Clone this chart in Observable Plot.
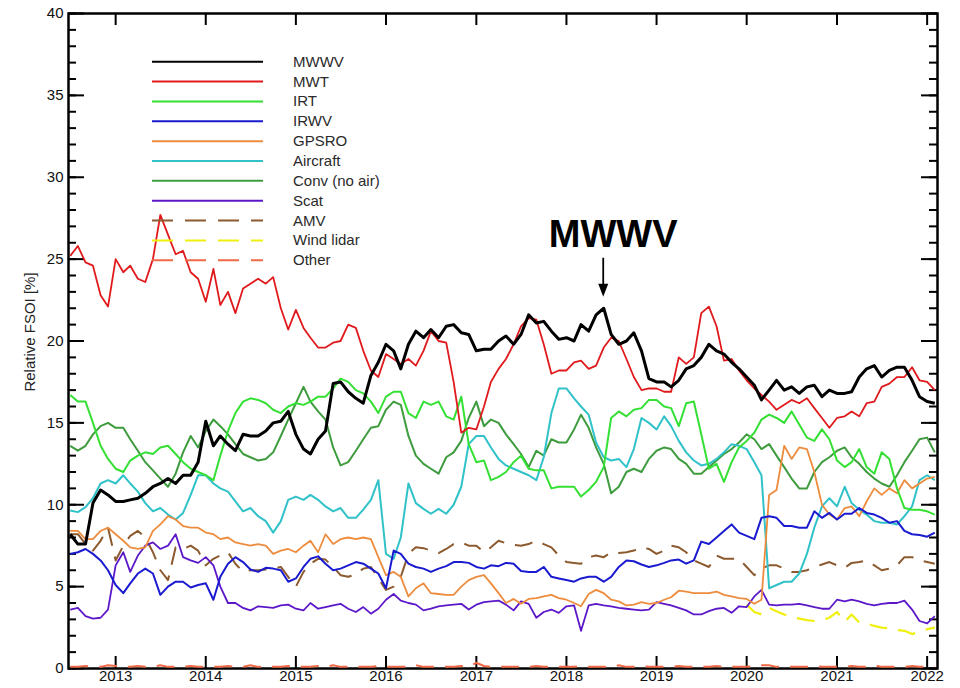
<!DOCTYPE html>
<html><head><meta charset="utf-8">
<script src="https://cdn.jsdelivr.net/npm/d3@7"></script>
<script src="https://cdn.jsdelivr.net/npm/@observablehq/plot@0.6"></script>
<style>
body{margin:0;background:#fff;}
#wrap{position:relative;width:960px;height:688px;overflow:hidden;}
#wrap svg{position:absolute;left:0;top:0;}
</style></head><body><div id="wrap"></div>
<script>
// ---- data (monthly, first value = July 2012) ----
const seriesStart = "2012-07-01";
const windLidarStart = "2020-01-01";

const mwwv = [8.2,7.6,7.6,10.1,10.9,10.6,10.2,10.2,10.3,10.4,
10.7,11.1,11.3,11.6,11.3,11.8,11.8,12.6,15.1,13.6,
14.2,13.7,13.3,14.3,14.2,14.2,14.5,15.0,15.1,15.7,
14.3,13.4,13.1,14.0,14.5,17.4,17.5,16.9,16.5,16.2,
17.9,18.7,19.8,19.4,18.3,19.8,20.6,20.2,20.7,20.2,
20.9,21.0,20.5,20.4,19.4,19.5,19.5,20.0,20.3,19.8,
20.4,21.6,21.1,21.2,20.6,20.1,20.2,20.0,21.0,20.6,
21.6,22.0,20.4,19.8,20.0,20.5,19.4,17.7,17.5,17.5,
17.2,17.6,18.3,18.5,19.0,19.8,19.4,19.2,18.7,18.3,
17.8,17.3,16.4,17.0,17.6,17.0,17.2,16.8,17.2,17.3,
16.6,17.0,16.8,16.8,16.9,17.8,18.3,18.5,17.8,18.2,
18.4,18.4,17.6,16.6,16.3,16.2];

const mwt = [25.2,25.8,24.8,24.6,22.8,22.1,25.0,24.2,24.6,23.8,
23.6,25.0,27.7,26.5,25.3,25.5,24.2,23.8,22.4,24.4,
22.2,23.0,21.7,23.2,23.5,23.8,23.5,23.9,22.0,20.7,
21.9,20.8,20.2,19.6,19.6,19.9,20.0,21.0,20.8,19.4,
18.2,17.8,19.2,18.9,18.6,18.9,18.5,19.4,20.6,20.0,
19.9,17.5,14.4,14.7,14.6,16.0,17.5,18.3,18.9,19.8,
20.9,21.4,21.3,19.8,18.0,18.2,18.2,18.7,18.8,18.3,
18.5,19.6,20.2,20.0,18.9,17.8,17.0,17.1,17.1,16.9,
16.9,19.0,18.6,19.0,21.7,22.1,20.9,18.8,18.9,18.2,
17.6,17.1,16.7,16.3,15.8,16.1,16.4,16.2,16.5,15.9,
15.3,14.7,15.3,15.4,15.7,15.4,16.2,16.3,17.2,17.4,
17.8,17.8,18.4,17.6,17.5,17.0];

const irt = [16.7,16.3,16.3,15.0,13.6,12.8,12.2,12.0,12.7,13.0,
13.2,13.1,13.5,13.6,13.1,12.6,12.2,12.0,11.8,11.5,
13.0,14.5,15.6,16.3,16.5,16.4,16.2,15.8,15.6,16.0,
16.2,16.1,16.3,16.6,16.6,17.1,17.7,17.5,17.0,16.8,
16.3,15.6,16.6,16.9,16.9,15.6,15.3,16.3,16.1,16.3,
15.4,15.2,16.6,13.7,12.6,12.7,11.5,11.7,12.0,12.6,
13.0,12.2,12.1,12.1,11.0,11.1,11.1,11.1,10.5,10.9,
11.4,12.3,15.3,15.7,15.4,15.8,15.9,16.4,16.4,16.0,
15.9,14.8,16.2,16.3,14.3,12.2,12.5,11.4,12.6,13.5,
13.9,14.4,15.2,15.5,15.3,15.0,15.7,14.9,14.1,13.9,
14.6,14.0,12.7,12.3,12.6,13.4,12.3,11.9,13.2,12.8,
11.0,9.8,9.7,9.7,9.6,9.4];

const irwv = [7.0,7.1,7.3,7.0,6.6,6.0,5.1,4.6,5.2,5.8,
6.1,5.8,4.5,5.0,5.3,5.3,4.95,5.1,5.2,4.2,
5.6,6.4,6.8,6.5,6.05,5.9,6.15,6.1,6.0,5.3,
5.5,6.2,6.7,6.85,6.4,6.0,6.1,6.3,6.5,6.4,
6.1,5.8,4.9,7.2,7.0,6.4,6.2,6.1,5.9,6.1,
6.25,6.5,6.5,6.45,6.2,6.1,6.3,6.25,6.45,6.4,
5.95,5.9,5.9,6.2,5.6,5.5,5.4,5.3,5.5,5.6,
5.6,5.3,5.6,6.2,6.6,6.55,6.35,6.2,6.3,6.45,
6.6,6.65,6.4,6.6,7.75,7.6,8.0,8.4,8.8,8.3,
8.1,7.9,9.2,9.3,9.2,8.7,8.7,8.6,8.6,9.6,
9.2,9.5,9.1,9.45,9.45,9.8,9.5,9.4,9.2,8.9,
9.0,8.4,8.2,8.15,8.05,8.3];

const gpsro = [8.4,8.4,7.9,7.9,8.4,8.6,8.2,7.8,7.4,7.3,
7.4,8.4,8.8,9.3,9.1,8.7,8.6,8.6,8.3,8.2,
7.9,8.0,7.7,7.6,7.5,7.6,7.5,7.0,7.2,7.3,
7.1,7.5,7.8,7.1,8.2,7.6,7.9,8.0,7.9,8.0,
7.9,6.8,5.7,5.9,5.6,4.4,4.9,5.2,4.6,4.55,
4.5,4.5,5.0,5.4,5.6,5.7,5.2,4.6,4.0,4.25,
3.95,4.25,4.3,4.4,4.5,4.3,4.2,4.0,3.8,4.55,
4.8,4.6,4.2,4.1,3.85,3.9,4.05,3.95,4.0,4.2,
4.35,4.75,4.7,4.6,4.6,4.6,4.7,4.5,4.4,4.3,
4.25,3.95,4.2,10.6,10.9,13.6,12.8,13.5,13.4,12.0,
10.0,9.4,9.1,9.8,9.9,9.3,10.2,11.0,10.6,11.0,
10.7,11.5,11.0,11.3,11.6,11.7];

const aircraft = [9.65,9.55,9.85,10.4,11.3,11.5,11.3,11.8,11.3,10.8,
10.1,9.6,9.8,9.4,9.1,9.5,10.6,11.8,11.8,11.3,
11.0,10.8,10.2,9.6,9.8,9.3,9.0,8.3,9.0,10.3,
10.5,10.3,10.6,10.3,9.9,9.6,9.8,9.2,9.2,9.7,
10.3,11.5,7.0,6.7,8.0,11.3,10.1,9.75,9.45,9.75,
9.45,10.0,11.1,13.7,14.2,14.2,13.5,12.8,12.4,12.2,
12.0,11.8,11.5,12.9,15.6,17.1,17.1,16.5,16.0,15.5,
13.8,12.9,12.7,12.8,12.3,13.4,15.3,15.0,14.6,15.4,
14.8,13.9,13.2,12.7,12.4,12.5,12.8,13.2,13.7,13.6,
13.4,12.6,11.8,4.9,5.1,5.3,5.3,5.8,7.0,8.6,
9.9,10.4,9.9,11.1,10.1,9.7,9.4,9.0,8.9,8.9,
8.8,9.3,9.9,11.5,11.8,11.5];

const conv = [13.6,13.3,13.6,14.3,14.8,15.0,14.7,14.7,14.0,13.3,
12.6,12.1,11.6,11.1,11.9,13.2,14.2,13.5,14.5,15.2,
14.8,14.3,13.7,13.1,12.9,12.7,12.8,13.2,14.2,15.2,
16.2,17.2,16.3,15.7,15.2,13.5,12.4,12.6,13.3,14.0,
14.7,14.8,15.8,16.3,16.1,14.2,13.0,12.5,12.2,11.9,
12.9,13.2,13.9,15.3,16.3,14.8,15.2,15.0,14.3,13.7,
13.1,12.3,13.3,13.0,14.0,13.8,13.8,14.6,15.5,14.7,
13.5,12.5,10.7,11.1,12.0,12.2,12.0,12.8,13.3,13.5,
13.4,12.8,12.5,11.9,11.9,12.3,12.7,13.1,13.4,13.8,
14.3,14.0,13.4,13.7,13.0,12.3,11.6,11.0,11.0,12.0,
12.6,12.9,13.3,13.5,12.9,12.5,12.0,11.6,11.3,11.1,
11.8,12.6,13.3,14.0,14.1,13.2];

const scat = [3.6,3.7,3.2,3.05,3.1,3.6,6.3,7.1,5.9,6.9,
7.5,7.7,7.3,7.5,8.2,6.8,6.6,6.45,6.8,6.3,
5.0,4.0,4.0,3.7,3.55,3.8,3.75,3.7,3.85,3.9,
3.65,3.55,4.0,3.65,3.75,3.85,3.95,3.65,3.45,3.75,
3.35,3.65,4.2,4.55,4.15,4.0,3.9,3.55,3.65,3.8,
3.85,3.9,3.95,3.6,3.9,4.05,4.1,4.15,3.9,3.55,
4.1,3.95,3.1,3.45,3.6,3.4,3.8,3.85,2.3,3.85,
3.95,3.85,3.8,3.7,3.65,3.6,3.55,3.6,4.05,3.95,
3.85,3.7,3.55,3.3,3.3,3.5,3.65,3.7,3.4,3.8,
3.75,4.4,4.8,3.9,3.85,3.9,3.9,3.95,3.85,3.75,
3.65,3.65,4.2,4.1,4.2,4.1,3.95,3.85,3.95,4.0,
4.0,4.15,3.6,2.9,2.75,3.2];

const amv = [8.2,8.2,7.6,7.2,7.8,8.6,6.6,7.5,8.1,8.4,
8.0,7.1,6.0,5.4,7.4,7.3,7.5,7.2,6.3,6.7,
6.9,7.1,6.4,5.9,6.0,6.0,6.05,6.1,6.2,5.6,
5.0,5.9,6.4,6.7,6.65,6.2,5.7,5.6,5.75,6.1,
6.2,5.5,4.8,5.0,5.6,7.0,7.4,7.35,7.2,7.05,
7.3,7.6,7.7,7.5,7.5,7.1,7.4,7.8,7.65,7.55,
7.5,7.6,7.8,7.6,7.4,6.9,6.5,6.45,6.4,6.8,
6.9,6.8,7.1,7.05,7.1,7.2,7.4,7.3,7.0,7.2,
7.5,7.4,7.1,6.6,6.4,6.2,6.9,6.7,6.7,6.7,
6.2,5.7,6.1,6.3,6.3,6.1,5.9,5.9,6.0,6.2,
6.35,6.5,6.3,6.15,6.45,6.5,6.6,6.3,6.0,6.1,
6.3,6.8,6.8,6.6,6.5,6.4];

const windLidar = [3.9,3.45,3.3,3.7,3.5,3.3,3.15,3.05,2.95,2.9,
2.95,3.1,3.45,2.85,3.3,2.8,2.75,2.6,2.5,2.45,
2.35,2.3,2.1,2.25,2.4,2.5];

const other = [0.1,0.1,0.15,0.1,0.1,0.2,0.15,0.1,0.1,0.15,
0.1,0.1,0.2,0.1,0.1,0.1,0.15,0.1,0.1,0.1,
0.1,0.15,0.1,0.1,0.2,0.1,0.1,0.1,0.1,0.15,
0.1,0.1,0.1,0.15,0.1,0.2,0.1,0.1,0.1,0.1,
0.1,0.15,0.1,0.1,0.1,0.1,0.2,0.1,0.1,0.1,
0.1,0.1,0.15,0.1,0.35,0.15,0.1,0.1,0.1,0.1,
0.1,0.1,0.15,0.1,0.1,0.1,0.1,0.1,0.15,0.1,
0.1,0.1,0.1,0.2,0.1,0.1,0.15,0.1,0.1,0.1,
0.1,0.15,0.1,0.1,0.1,0.1,0.15,0.1,0.1,0.1,
0.1,0.15,0.2,0.2,0.1,0.1,0.1,0.1,0.1,0.15,
0.1,0.1,0.1,0.1,0.15,0.1,0.1,0.2,0.1,0.1,
0.1,0.1,0.15,0.1,0.1,0.1];

const yearTicks = [2013,2014,2015,2016,2017,2018,2019,2020,2021,2022];
const yMajorTicks = [0,5,10,15,20,25,30,35,40];
const yMinorTicks = d3.range(0, 41, 1);
const annotationLabel = "MWWV";
const annotationMonth = "2018-06-01";
const yLabel = "Relative FSOI [%]";

// ---- style config ----
const series = [
  {name: "MWWV", values: mwwv, start: seriesStart, color: "#000000", width: 3, dash: null},
  {name: "MWT", values: mwt, start: seriesStart, color: "#e01a1c", width: 1.8, dash: null},
  {name: "IRT", values: irt, start: seriesStart, color: "#35e035", width: 2, dash: null},
  {name: "IRWV", values: irwv, start: seriesStart, color: "#1a1ad0", width: 2, dash: null},
  {name: "GPSRO", values: gpsro, start: seriesStart, color: "#ee8c3e", width: 1.8, dash: null},
  {name: "Aircraft", values: aircraft, start: seriesStart, color: "#30c2c8", width: 2, dash: null},
  {name: "Conv (no air)", values: conv, start: seriesStart, color: "#3e9c3e", width: 2, dash: null},
  {name: "Scat", values: scat, start: seriesStart, color: "#5c18c8", width: 1.8, dash: null},
  {name: "AMV", values: amv, start: seriesStart, color: "#8c5a2e", width: 2, dash: "18,11"},
  {name: "Wind lidar", values: windLidar, start: windLidarStart, color: "#f0f010", width: 2.2, dash: "18,11"},
  {name: "Other", values: other, start: seriesStart, color: "#f06a48", width: 2, dash: "18,11"}
];

const rows = [];
for (const s of series) {
  const t0 = new Date(s.start + "T00:00:00Z");
  s.values.forEach((v, i) => rows.push({series: s.name, date: d3.utcMonth.offset(t0, i), value: v}));
}

const W = 960, H = 688, mL = 68, mR = 23, mT = 13, mB = 20;
const FW = W - mL - mR, FH = H - mT - mB;
const yearDates = yearTicks.map(y => new Date(Date.UTC(y, 0, 1)));

const drawOrder = ["Other","Wind lidar","AMV","Scat","Conv (no air)","Aircraft","GPSRO","IRWV","IRT","MWT","MWWV"];
const lineMarks = drawOrder.map(n => {
  const s = series.find(d => d.name === n);
  return Plot.line(rows.filter(r => r.series === n), {
    x: "date", y: "value", stroke: s.color, strokeWidth: s.width,
    strokeDasharray: s.dash || undefined, strokeLinejoin: "round", strokeLinecap: "butt"
  });
});

const chart = Plot.plot({
  width: W, height: H,
  marginLeft: mL, marginRight: mR, marginTop: mT, marginBottom: mB,
  style: {fontFamily: "'Liberation Sans', Arial, sans-serif", background: "white", color: "#111", overflow: "visible"},
  x: {type: "utc", domain: [new Date("2012-06-24T00:00:00Z"), new Date("2022-02-12T00:00:00Z")]},
  y: {domain: [0, 40]},
  marks: [
    // inward minor / major ticks on left and right, year ticks on top and bottom
    Plot.tickY(yMinorTicks, {y: d => d, insetRight: FW - 8, stroke: "#000", strokeWidth: 2}),
    Plot.tickY(yMinorTicks, {y: d => d, insetLeft: FW - 8, stroke: "#000", strokeWidth: 2}),
    Plot.tickY(yMajorTicks, {y: d => d, insetRight: FW - 16, stroke: "#000", strokeWidth: 2}),
    Plot.tickY(yMajorTicks, {y: d => d, insetLeft: FW - 16, stroke: "#000", strokeWidth: 2}),
    Plot.tickX(yearDates, {x: d => d, insetBottom: FH - 12, stroke: "#000", strokeWidth: 2}),
    Plot.tickX(yearDates, {x: d => d, insetTop: FH - 12, stroke: "#000", strokeWidth: 2}),
    Plot.axisY({ticks: yMajorTicks, tickSize: 0, tickPadding: 5, fontSize: 15, label: null}),
    Plot.axisX({ticks: yearDates, tickSize: 0, tickPadding: 2, tickFormat: d3.utcFormat("%Y"),
      fontSize: 15, fontFamily: "'Liberation Sans Narrow', 'Arial Narrow', sans-serif", label: null}),
    Plot.text([yLabel], {frameAnchor: "left", textAnchor: "middle", text: d => d, rotate: -90,
      dx: -38, dy: -9, fontSize: 15, fill: "#222"}),
    Plot.frame({stroke: "#000", strokeWidth: 2.5}),
    ...lineMarks
  ]
});

const wrap = document.getElementById("wrap");
wrap.appendChild(chart);

// ---- overlay: legend and annotation (positioned via the chart's scales) ----
const xs = chart.scale("x"), ys = chart.scale("y");
const ov = d3.select(wrap).append("svg").attr("width", W).attr("height", H)
  .style("pointer-events", "none").attr("font-family", "'Liberation Sans', Arial, sans-serif");

const legX1 = 152, legX2 = 263, legTx = 293, legY0 = 61.7, legStep = 19.86;
series.forEach((s, i) => {
  const y = legY0 + i * legStep;
  ov.append("line").attr("x1", legX1).attr("x2", legX2).attr("y1", y).attr("y2", y)
    .attr("stroke", s.color).attr("stroke-width", 2)
    .attr("stroke-dasharray", s.dash ? "21,12" : null);
  ov.append("text").attr("x", legTx).attr("y", y + 5).attr("font-size", 15)
    .attr("fill", "#2a2a2a").text(s.name);
});

const peakIdx = d3.utcMonth.count(new Date(seriesStart + "T00:00:00Z"), new Date(annotationMonth + "T00:00:00Z"));
const px = xs.apply(new Date(annotationMonth + "T00:00:00Z"));
const py = ys.apply(mwwv[peakIdx]);
ov.append("text").attr("x", px + 10).attr("y", py - 61).attr("text-anchor", "middle")
  .attr("font-size", 38).attr("font-weight", "bold").attr("fill", "#000").text(annotationLabel);
ov.append("line").attr("x1", px).attr("x2", px).attr("y1", py - 50).attr("y2", py - 22)
  .attr("stroke", "#000").attr("stroke-width", 1.8);
ov.append("path").attr("d", `M${px - 5},${py - 24} L${px + 5},${py - 24} L${px},${py - 11} Z`).attr("fill", "#000");
</script>
</body></html>
